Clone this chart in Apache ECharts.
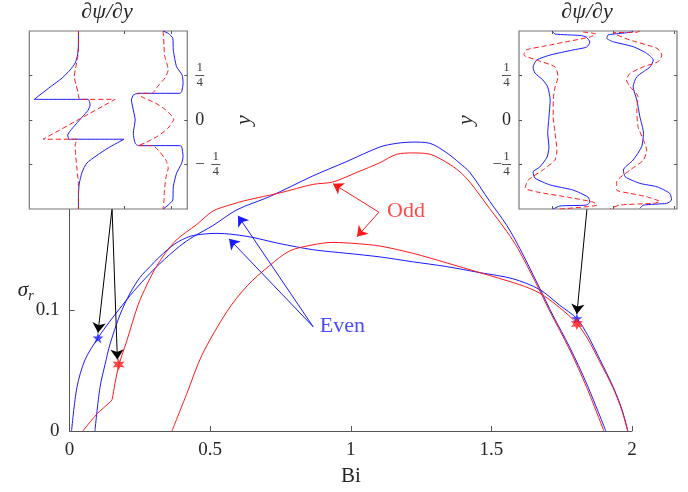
<!DOCTYPE html>
<html><head><meta charset="utf-8">
<script src="https://cdn.jsdelivr.net/npm/echarts@6/dist/echarts.min.js"></script>
<style>html,body{margin:0;padding:0;background:#fff}#c{width:688px;height:492px}</style>
</head><body><div id="c"></div>
<script>
// ---------- main plot data: [Bi, sigma_r] ----------
const evenUpper = [[0.007,0],[0.026,0.036],[0.055,0.059],[0.101,0.077],[0.144,0.091],[0.215,0.112],[0.268,0.126],[0.321,0.1385],[0.392,0.153],[0.439,0.1606],[0.510,0.170],[0.595,0.183],[0.712,0.194],[0.865,0.211],[0.986,0.223],[1.104,0.235],[1.164,0.238],[1.221,0.239],[1.281,0.238],[1.342,0.230],[1.385,0.222],[1.423,0.214],[1.494,0.190],[1.555,0.170],[1.601,0.151],[1.672,0.118],[1.718,0.096],[1.779,0.069],[1.839,0.039],[1.907,0]];
const evenLower = [[0.090,0],[0.108,0.036],[0.126,0.055],[0.144,0.072],[0.179,0.096],[0.215,0.114],[0.250,0.127],[0.286,0.136],[0.321,0.1443],[0.375,0.1549],[0.428,0.161],[0.481,0.163],[0.524,0.1635],[0.631,0.161],[0.748,0.155],[0.865,0.150],[0.986,0.147],[1.104,0.144],[1.22,0.140],[1.341,0.136],[1.459,0.131],[1.576,0.126],[1.672,0.117],[1.743,0.104],[1.804,0.093],[1.843,0.079],[1.886,0.059],[1.932,0.037],[1.964,0.018],[1.985,0]];
const oddUpper = [[0.047,0],[0.097,0.014],[0.144,0.024],[0.151,0.026],[0.161,0.039],[0.176,0.055],[0.204,0.075],[0.243,0.104],[0.275,0.121],[0.311,0.137],[0.375,0.157],[0.453,0.171],[0.510,0.182],[0.570,0.187],[0.631,0.191],[0.748,0.197],[0.865,0.204],[0.936,0.206],[1.022,0.214],[1.104,0.222],[1.164,0.229],[1.221,0.230],[1.281,0.229],[1.342,0.222],[1.385,0.215],[1.423,0.206],[1.494,0.184],[1.555,0.165],[1.594,0.151],[1.655,0.124],[1.708,0.099],[1.779,0.067],[1.839,0.036],[1.900,0]];
const oddLower = [[0.364,0],[0.417,0.031],[0.471,0.063],[0.560,0.099],[0.631,0.120],[0.712,0.137],[0.783,0.149],[0.865,0.154],[0.936,0.156],[1.022,0.155],[1.104,0.153],[1.221,0.147],[1.342,0.139],[1.459,0.131],[1.601,0.121],[1.672,0.114],[1.743,0.102],[1.804,0.089],[1.843,0.076],[1.886,0.057],[1.932,0.036],[1.964,0.017],[1.985,0]];
const evenStars = [[0.101,0.077],[1.804,0.093]];
const oddStars = [[0.174,0.055],[1.804,0.0886]];
const xTicks = [0,0.5,1,1.5,2];
const yTicks = [0,0.1,0.2];

// ---------- annotations (data units) ----------
const oddLabel = [1.129,0.1819];
const evenLabel = [0.890,0.087];
const oddArrows = [[[1.100,0.181],[0.937,0.2046]],[[1.100,0.181],[1.022,0.1607]]];
const evenArrows = [[[0.866,0.0863],[0.599,0.178]],[[0.866,0.0863],[0.567,0.159]]];
const blackArrows = [[[0.151,0.184],[0.101,0.0813]],[[0.151,0.184],[0.170,0.0592]],[[1.840,0.184],[1.804,0.0968]]];

// ---------- inset data: [dpsi/dy (arb.), y] ----------
const insetYTicks = [-0.25,0,0.25];
const insetXTicks = [0,1,2];
const leftBlue1 = [[0.01,0.5],[0.01,0.421],[-0.01,0.365],[-0.06,0.32],[-0.17,0.281],[-0.34,0.236],[-0.60,0.185],[-0.94,0.116],[0.22,0.116],[0.25,0.101],[0.26,0.084],[0.22,0.056],[0.09,0.017],[-0.04,-0.022],[-0.17,-0.062],[-0.22,-0.084],[-0.19,-0.108],[0.99,-0.108],[0.65,-0.157],[0.39,-0.202],[0.19,-0.242],[0.09,-0.292],[0.03,-0.354],[0.01,-0.421],[0.01,-0.5]];
const leftRed1 = [[0.01,0.5],[0.01,0.421],[0,0.365],[-0.03,0.32],[-0.06,0.281],[-0.08,0.242],[-0.04,0.197],[0,0.157],[0.04,0.116],[0.80,0.116],[-0.75,-0.108],[-0.02,-0.108],[-0.06,-0.14],[-0.05,-0.197],[-0.02,-0.281],[0.01,-0.365],[0.01,-0.5]];
const leftBlue2 = [[1.83,0.5],[1.94,0.487],[2.04,0.459],[2.05,0.393],[2.12,0.299],[2.24,0.253],[2.26,0.206],[2.23,0.159],[2.19,0.15],[1.30,0.15],[1.19,0.14],[1.15,0.112],[1.19,0.056],[1.23,0],[1.19,-0.075],[1.23,-0.131],[1.30,-0.144],[2.19,-0.144],[2.23,-0.15],[2.26,-0.206],[2.23,-0.243],[2.12,-0.299],[2.05,-0.375],[2.04,-0.449],[1.94,-0.478],[1.83,-0.5]];
const leftRed2 = [[1.83,0.5],[1.85,0.421],[1.86,0.365],[1.91,0.32],[1.94,0.281],[1.87,0.236],[1.72,0.191],[1.59,0.15],[1.27,0.15],[1.38,0.129],[1.66,0.096],[1.89,0.056],[2.06,0.006],[1.94,-0.045],[1.72,-0.09],[1.44,-0.129],[1.29,-0.144],[1.61,-0.144],[1.76,-0.18],[1.89,-0.225],[1.94,-0.27],[1.89,-0.326],[1.86,-0.393],[1.85,-0.449],[1.83,-0.5]];
const rightBlue1 = [[0,0.5],[0.05,0.483],[0.46,0.475],[0.56,0.466],[0.62,0.438],[0.57,0.41],[0.34,0.393],[-0.03,0.365],[-0.25,0.337],[-0.31,0.298],[-0.28,0.264],[-0.15,0.225],[-0.07,0.185],[-0.03,0.112],[-0.05,0.017],[-0.07,-0.073],[-0.05,-0.152],[-0.08,-0.208],[-0.2,-0.264],[-0.31,-0.292],[-0.28,-0.326],[-0.03,-0.365],[0.34,-0.393],[0.59,-0.433],[0.62,-0.461],[0.56,-0.478],[0.13,-0.483],[0.02,-0.5]];
const rightRed1 = [[0.51,0.494],[0.72,0.483],[0.62,0.466],[0.30,0.444],[-0.11,0.416],[-0.43,0.393],[-0.46,0.365],[-0.25,0.337],[0.05,0.298],[0.10,0.242],[0.05,0.185],[0.02,0.112],[0.02,0.017],[0.05,-0.073],[0.08,-0.169],[0.05,-0.225],[-0.15,-0.281],[-0.39,-0.337],[-0.44,-0.382],[-0.25,-0.404],[0.25,-0.433],[0.67,-0.461],[0.74,-0.478],[0.51,-0.489],[0.13,-0.5]];
const rightBlue2 = [[1.31,0.5],[1.33,0.496],[1.14,0.487],[0.92,0.478],[0.90,0.459],[1.00,0.44],[1.33,0.412],[1.55,0.375],[1.66,0.337],[1.61,0.299],[1.39,0.243],[1.33,0.187],[1.39,0.112],[1.44,0.019],[1.50,-0.075],[1.47,-0.15],[1.33,-0.225],[1.17,-0.281],[1.20,-0.319],[1.44,-0.356],[1.72,-0.375],[1.93,-0.412],[1.96,-0.449],[1.88,-0.468],[1.50,-0.478],[1.44,-0.496]];
const rightRed2 = [[1.44,0.5],[1.39,0.493],[1.0,0.489],[1.28,0.449],[1.72,0.403],[1.80,0.365],[1.74,0.328],[1.50,0.299],[1.28,0.262],[1.22,0.225],[1.28,0.187],[1.41,0.131],[1.39,0.056],[1.41,-0.038],[1.50,-0.112],[1.55,-0.169],[1.50,-0.225],[1.28,-0.281],[1.06,-0.347],[1.06,-0.393],[1.28,-0.412],[1.55,-0.431],[1.77,-0.459],[1.66,-0.468],[1.11,-0.478],[0.95,-0.5]];

const BLUE = '#1a1aff', RED = '#ff1a1a', AX = '#555555', TXT = '#262626';
const FONT = '"Liberation Serif", "DejaVu Serif", serif';
const PENTA = 'path://M50 0 L61.8 36.2 L100 36.2 L69.1 58.6 L80.9 95 L50 72.6 L19.1 95 L30.9 58.6 L0 36.2 L38.2 36.2 Z';
const HEXA = 'path://M50 0 L62.5 28.3 L93.3 25 L75 50 L93.3 75 L62.5 71.7 L50 100 L37.5 71.7 L6.7 75 L25 50 L6.7 25 L37.5 28.3 Z';

function frac(v){
  if (v === 0) return '{z|0}';
  if (v < 0) return '{p| }{n|1}\n{m|−}{b| }\n{p| }{d|4}';
  return '{n|1}\n{b| }\n{d|4}';
}
const fracRich = {
  z:{fontSize:18,fontFamily:FONT,color:TXT,lineHeight:18},
  n:{fontSize:13,fontFamily:FONT,color:'#444',width:9,align:'center',lineHeight:12},
  d:{fontSize:13,fontFamily:FONT,color:'#444',width:9,align:'center',lineHeight:12},
  b:{width:9,height:1,fontSize:1,lineHeight:3,backgroundColor:'#555'},
  m:{fontSize:17,fontFamily:FONT,color:'#444',width:16,lineHeight:3},
  p:{width:16,fontSize:1}
};

function mline(pairs, color){
  return {
    silent:true, symbol:['none','arrow'], symbolSize:10,
    label:{show:false}, lineStyle:{color:color,width:1,type:'solid'},
    itemStyle:{color:color},
    data: pairs.map(p=>[{coord:p[0]},{coord:p[1]}])
  };
}
function lineS(data, color, extra){
  return Object.assign({type:'line', data:data, showSymbol:false, symbol:'none',
    lineStyle:{color:color,width:1}, smooth:0.3, clip:false, animation:false, z:2}, extra||{});
}
function insetLine(data, color, dashed, idx){
  return {type:'line', xAxisIndex:idx, yAxisIndex:idx, data:data, showSymbol:false, symbol:'none',
    lineStyle:{color:color,width:1,type: dashed?[5,3]:'solid'}, smooth:0.2, animation:false, z:12};
}
function insetX(gi, min, max, pos){
  return {gridIndex:gi, type:'value', min:min, max:max, position:pos, z:11,
    axisLine:{show:false, onZero:false}, splitLine:{show:false}, axisLabel:{show:false},
    axisTick:{show:true, inside:true, length:3, customValues:insetXTicks, lineStyle:{color:AX}}};
}
function insetY(gi, pos, labels, nameGap){
  return {gridIndex:gi, type:'value', min:-0.5, max:0.5, position:pos, z:11,
    axisLine:{show:false, onZero:false}, splitLine:{show:false},
    axisTick:{show:true, inside:true, length:3, customValues:insetYTicks, lineStyle:{color:AX}},
    axisLabel:{show:labels, customValues:insetYTicks, formatter:frac, rich:fracRich, margin:8},
    name: labels ? 'y' : '', nameLocation:'middle', nameRotate:90, nameGap:nameGap,
    nameTextStyle:{fontFamily:FONT, fontStyle:'italic', fontSize:22, color:TXT}};
}

const chart = echarts.init(document.getElementById('c'), null, {renderer:'canvas'});
chart.setOption({
  animation:false,
  backgroundColor:'#fff',
  title:[
    {text:'∂ψ/∂y', left:102, top:-4, textAlign:'center', textStyle:{fontFamily:FONT, fontStyle:'italic', fontWeight:'normal', fontSize:22, color:TXT}},
    {text:'∂ψ/∂y', left:582, top:-4, textAlign:'center', textStyle:{fontFamily:FONT, fontStyle:'italic', fontWeight:'normal', fontSize:22, color:TXT}}
  ],
  grid:[
    {left:69.6, right:56, top:128.8, bottom:57.7, z:0},
    {left:29.3, top:31, width:158, height:178, show:true, backgroundColor:'#fff', borderColor:'#777', borderWidth:1.2, z:10},
    {left:519, top:31, width:158, height:178, show:true, backgroundColor:'#fff', borderColor:'#777', borderWidth:1.2, z:10}
  ],
  xAxis:[
    {gridIndex:0, type:'value', min:0, max:2, interval:0.5,
     axisLine:{lineStyle:{color:AX,width:1}}, splitLine:{show:false},
     axisTick:{inside:true, length:5, lineStyle:{color:AX}},
     axisLabel:{fontFamily:FONT, fontSize:19, color:TXT, margin:10, customValues:xTicks},
     name:'Bi', nameLocation:'middle', nameGap:35, nameMoveOverlap:false,
     nameTextStyle:{fontFamily:FONT, fontSize:21, color:TXT, verticalAlign:'top'}},
    insetX(1, -1.047, 2.351, 'bottom'),
    insetX(2, -0.541, 2.049, 'bottom'),
    insetX(1, -1.047, 2.351, 'top'),
    insetX(2, -0.541, 2.049, 'top')
  ],
  yAxis:[
    {gridIndex:0, type:'value', min:0, max:0.25,
     axisLine:{lineStyle:{color:AX,width:1}}, splitLine:{show:false},
     axisTick:{inside:true, length:5, customValues:yTicks, lineStyle:{color:AX}},
     axisLabel:{fontFamily:FONT, fontSize:19, color:TXT, margin:10, customValues:yTicks},
     name:'{s|σ}{r|r}', nameLocation:'middle', nameRotate:0, nameGap:36, nameMoveOverlap:false,
     nameTextStyle:{align:'right', padding:[22,0,0,0], rich:{s:{fontFamily:FONT, fontStyle:'italic', fontSize:21, color:TXT}, r:{fontFamily:FONT, fontStyle:'italic', fontSize:14, color:TXT, padding:[10,0,0,0]}}}},
    insetY(1, 'right', true, 46),
    insetY(2, 'left', true, 42),
    insetY(1, 'left', false, 0),
    insetY(2, 'right', false, 0)
  ],
  series:[
    lineS(evenUpper, BLUE, {markLine: mline(evenArrows, BLUE)}),
    lineS(evenLower, BLUE),
    lineS(oddUpper, RED, {markLine: mline(oddArrows, RED)}),
    lineS(oddLower, RED),
    {type:'line', data:[], markLine: mline(blackArrows, '#000'), z:3},
    {type:'scatter', data:evenStars, symbol:PENTA, symbolSize:11, itemStyle:{color:BLUE}, z:4, animation:false},
    {type:'scatter', data:oddStars, symbol:HEXA, symbolSize:12, itemStyle:{color:RED}, z:4, animation:false},
    {type:'scatter', symbolSize:0, z:4, animation:false,
     data:[{value:oddLabel, name:'Odd', label:{color:RED}}, {value:evenLabel, name:'Even', label:{color:BLUE}}],
     label:{show:true, position:'right', distance:0, formatter:'{b}', fontFamily:FONT, fontSize:22}},
    insetLine(leftBlue1, BLUE, false, 1),
    insetLine(leftRed1, RED, true, 1),
    insetLine(leftBlue2, BLUE, false, 1),
    insetLine(leftRed2, RED, true, 1),
    insetLine(rightBlue1, BLUE, false, 2),
    insetLine(rightRed1, RED, true, 2),
    insetLine(rightBlue2, BLUE, false, 2),
    insetLine(rightRed2, RED, true, 2)
  ]
});
</script></body></html>
